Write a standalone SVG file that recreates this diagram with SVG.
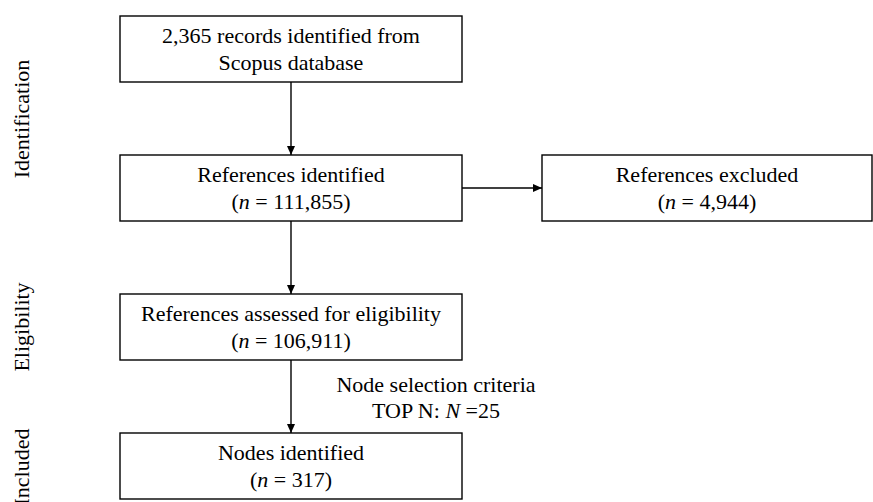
<svg xmlns="http://www.w3.org/2000/svg" width="873" height="502" viewBox="0 0 873 502">
<defs>
<style>
.box{fill:#fff;stroke:#000;stroke-width:1.4}
.t{font-family:"Liberation Serif","Times New Roman",serif;font-size:22px;fill:#000;text-anchor:middle}
.c{stroke:#000;stroke-width:1.4;fill:none}
</style>
<marker id="ah" markerUnits="userSpaceOnUse" markerWidth="9" markerHeight="8" refX="9" refY="4" orient="auto">
<path d="M0,0 L9,4 L0,8 z" fill="#000"/>
</marker>
</defs>
<rect width="873" height="502" fill="#fff"/>
<g id="stage-labels">
<text class="t" transform="translate(29,119) rotate(-90)">Identification</text>
<text class="t" transform="translate(29,327) rotate(-90)">Eligibility</text>
<text class="t" transform="translate(29,467) rotate(-90)">Included</text>
</g>
<g id="connectors">
<line class="c" x1="291" y1="82" x2="291" y2="155" marker-end="url(#ah)"/>
<line class="c" x1="462" y1="188" x2="542" y2="188" marker-end="url(#ah)"/>
<line class="c" x1="291" y1="221" x2="291" y2="294" marker-end="url(#ah)"/>
<line class="c" x1="291" y1="360" x2="291" y2="433" marker-end="url(#ah)"/>
<text class="t" x="436" y="392">Node selection criteria</text>
<text class="t" x="436" y="418">TOP N: <tspan font-style="italic">N</tspan> =25</text>
</g>
<g id="n1">
<rect class="box" x="120" y="16" width="342" height="66"/>
<text class="t" x="291" y="43">2,365 records identified from</text>
<text class="t" x="291" y="70">Scopus database</text>
</g>
<g id="n2">
<rect class="box" x="120" y="155" width="342" height="66"/>
<text class="t" x="291" y="182">References identified</text>
<text class="t" x="291" y="209">(<tspan font-style="italic">n</tspan> = 111,855)</text>
</g>
<g id="n3">
<rect class="box" x="542" y="155" width="330" height="66"/>
<text class="t" x="707" y="182">References excluded</text>
<text class="t" x="707" y="209">(<tspan font-style="italic">n</tspan> = 4,944)</text>
</g>
<g id="n4">
<rect class="box" x="120" y="294" width="342" height="66"/>
<text class="t" x="291" y="321">References assessed for eligibility</text>
<text class="t" x="291" y="348">(<tspan font-style="italic">n</tspan> = 106,911)</text>
</g>
<g id="n5">
<rect class="box" x="120" y="433" width="342" height="66"/>
<text class="t" x="291" y="460">Nodes identified</text>
<text class="t" x="291" y="487">(<tspan font-style="italic">n</tspan> = 317)</text>
</g>
</svg>
